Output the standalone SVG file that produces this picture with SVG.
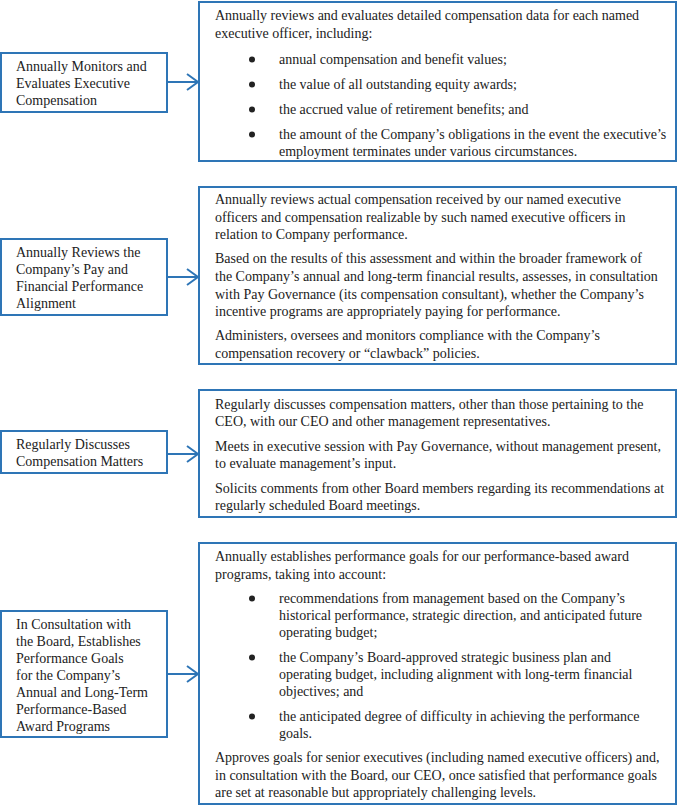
<svg xmlns="http://www.w3.org/2000/svg" width="680" height="806" viewBox="0 0 680 806">
<style>
.box{fill:#fff;stroke:#2e75b6;stroke-width:2}
.t{font-family:"Liberation Serif","Times New Roman",serif;font-size:14px;fill:#222}
.conn{fill:none;stroke:#2e75b6;stroke-width:2}
.b{fill:#222}
</style>
<defs>
<marker id="ah" markerWidth="14" markerHeight="20" refX="12" refY="10" orient="auto" markerUnits="userSpaceOnUse">
<path d="M1,2 L12,10 L1,18" fill="none" stroke="#2e75b6" stroke-width="2"/>
</marker>
</defs>
<rect width="680" height="806" fill="#fff"/>
<g id="connectors">
<line class="conn" x1="167" y1="82" x2="198" y2="82" marker-end="url(#ah)"/>
<line class="conn" x1="167" y1="277" x2="198" y2="277" marker-end="url(#ah)"/>
<line class="conn" x1="167" y1="454" x2="198" y2="454" marker-end="url(#ah)"/>
<line class="conn" x1="167" y1="674" x2="198" y2="674" marker-end="url(#ah)"/>
</g>
<g id="n1">
<rect class="box" x="1" y="53" width="166" height="59"/>
<text class="t" x="16" y="71">Annually Monitors and</text>
<text class="t" x="16" y="88">Evaluates Executive</text>
<text class="t" x="16" y="105">Compensation</text>
</g>
<g id="d1">
<rect class="box" x="199" y="2" width="477" height="159"/>
<text class="t" x="215" y="20">Annually reviews and evaluates detailed compensation data for each named</text>
<text class="t" x="215" y="38">executive officer, including:</text>
<circle class="b" cx="252" cy="59.5" r="3"/>
<text class="t" x="279" y="64">annual compensation and benefit values;</text>
<circle class="b" cx="252" cy="84.5" r="3"/>
<text class="t" x="279" y="89">the value of all outstanding equity awards;</text>
<circle class="b" cx="252" cy="109.5" r="3"/>
<text class="t" x="279" y="114">the accrued value of retirement benefits; and</text>
<circle class="b" cx="252" cy="134.5" r="3"/>
<text class="t" x="279" y="139">the amount of the Company’s obligations in the event the executive’s</text>
<text class="t" x="279" y="156">employment terminates under various circumstances.</text>
</g>
<g id="n2">
<rect class="box" x="1" y="239" width="166" height="76"/>
<text class="t" x="16" y="257">Annually Reviews the</text>
<text class="t" x="16" y="274">Company’s Pay and</text>
<text class="t" x="16" y="291">Financial Performance</text>
<text class="t" x="16" y="308">Alignment</text>
</g>
<g id="d2">
<rect class="box" x="199" y="187" width="477" height="177"/>
<text class="t" x="215" y="204">Annually reviews actual compensation received by our named executive</text>
<text class="t" x="215" y="221.5">officers and compensation realizable by such named executive officers in</text>
<text class="t" x="215" y="239">relation to Company performance.</text>
<text class="t" x="215" y="263">Based on the results of this assessment and within the broader framework of</text>
<text class="t" x="215" y="281">the Company’s annual and long-term financial results, assesses, in consultation</text>
<text class="t" x="215" y="298.5">with Pay Governance (its compensation consultant), whether the Company’s</text>
<text class="t" x="215" y="316">incentive programs are appropriately paying for performance.</text>
<text class="t" x="215" y="340">Administers, oversees and monitors compliance with the Company’s</text>
<text class="t" x="215" y="357.5">compensation recovery or “clawback” policies.</text>
</g>
<g id="n3">
<rect class="box" x="1" y="431" width="166" height="42"/>
<text class="t" x="16" y="449">Regularly Discusses</text>
<text class="t" x="16" y="466">Compensation Matters</text>
</g>
<g id="d3">
<rect class="box" x="199" y="390" width="477" height="127"/>
<text class="t" x="215" y="409">Regularly discusses compensation matters, other than those pertaining to the</text>
<text class="t" x="215" y="426">CEO, with our CEO and other management representatives.</text>
<text class="t" x="215" y="451">Meets in executive session with Pay Governance, without management present,</text>
<text class="t" x="215" y="468">to evaluate management’s input.</text>
<text class="t" x="215" y="493">Solicits comments from other Board members regarding its recommendations at</text>
<text class="t" x="215" y="510">regularly scheduled Board meetings.</text>
</g>
<g id="n4">
<rect class="box" x="1" y="611" width="166" height="126"/>
<text class="t" x="16" y="629">In Consultation with</text>
<text class="t" x="16" y="646">the Board, Establishes</text>
<text class="t" x="16" y="663">Performance Goals</text>
<text class="t" x="16" y="680">for the Company’s</text>
<text class="t" x="16" y="697">Annual and Long-Term</text>
<text class="t" x="16" y="714">Performance-Based</text>
<text class="t" x="16" y="731">Award Programs</text>
</g>
<g id="d4">
<rect class="box" x="199" y="543" width="477" height="261"/>
<text class="t" x="215" y="561">Annually establishes performance goals for our performance-based award</text>
<text class="t" x="215" y="579">programs, taking into account:</text>
<circle class="b" cx="252" cy="598.5" r="3"/>
<text class="t" x="279" y="603">recommendations from management based on the Company’s</text>
<text class="t" x="279" y="620">historical performance, strategic direction, and anticipated future</text>
<text class="t" x="279" y="637">operating budget;</text>
<circle class="b" cx="252" cy="657.5" r="3"/>
<text class="t" x="279" y="662">the Company’s Board-approved strategic business plan and</text>
<text class="t" x="279" y="679">operating budget, including alignment with long-term financial</text>
<text class="t" x="279" y="696">objectives; and</text>
<circle class="b" cx="252" cy="716.5" r="3"/>
<text class="t" x="279" y="721">the anticipated degree of difficulty in achieving the performance</text>
<text class="t" x="279" y="738">goals.</text>
<text class="t" x="215" y="762">Approves goals for senior executives (including named executive officers) and,</text>
<text class="t" x="215" y="780">in consultation with the Board, our CEO, once satisfied that performance goals</text>
<text class="t" x="215" y="797">are set at reasonable but appropriately challenging levels.</text>
</g>
</svg>
